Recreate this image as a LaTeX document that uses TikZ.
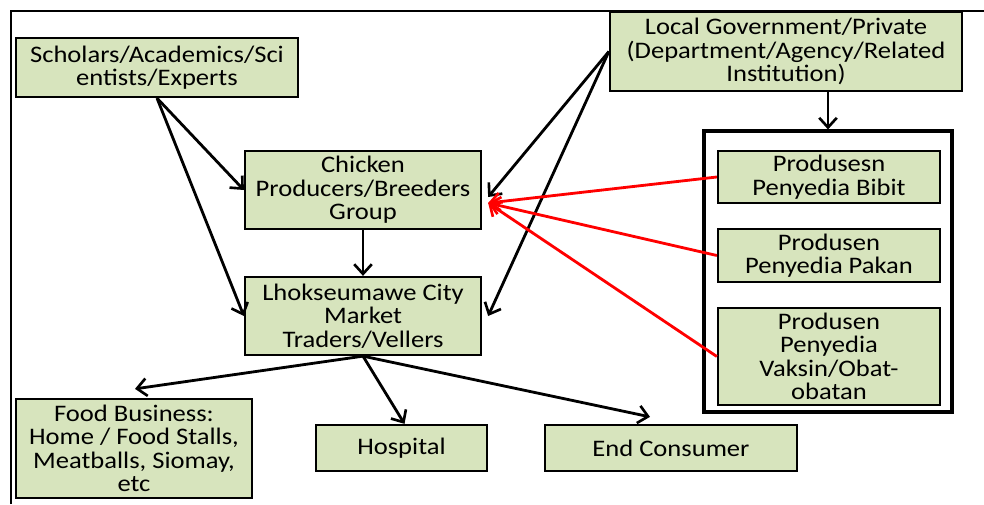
\documentclass[tikz,border=0pt]{standalone}
\usepackage{fontspec}
\setmainfont[FakeStretch=1.12]{Carlito}
\usepackage{xcolor}
\usetikzlibrary{arrows.meta, positioning, calc}

\definecolor{boxgreen}{HTML}{D7E4BD}

\begin{document}
\begin{tikzpicture}[
    x=0.02cm, y=-0.02cm,
    every node/.style={font=\fontsize{13.5}{13.3}\selectfont},
    actor/.style={rectangle, draw, line width=1.3pt, fill=boxgreen, align=center, inner sep=2pt},
    group/.style={rectangle, draw, line width=1.8pt, fill=white},
    arrow/.style={-{Straight Barb[length=5.5pt, width=10pt, line width=1.5pt]}, line width=1.6pt},
    redarrow/.style={arrow, red}
]
\useasboundingbox (0,0) rectangle (984,504);

% outer frame
\draw[line width=1.2pt] (11,504) -- (11,11) -- (984,11);

\node[actor, minimum width=282*0.02cm, minimum height=59*0.02cm] (schol) at (157,67.5) {Scholars/Academics/Sci\\entists/Experts};
\node[actor, minimum width=352*0.02cm, minimum height=79*0.02cm] (gov) at (786,51.5) {Local Government/Private\\(Department/Agency/Related\\Institution)};
\node[actor, minimum width=236*0.02cm, minimum height=78*0.02cm] (chick) at (363,190) {Chicken\\Producers/Breeders\\Group};
\node[actor, minimum width=236*0.02cm, minimum height=78*0.02cm] (lhok) at (363,316) {Lhokseumawe City\\Market\\Traders/Vellers};

\node[group, minimum width=248*0.02cm, minimum height=281*0.02cm] (cont) at (828,271.5) {};
\node[actor, minimum width=222*0.02cm, minimum height=52*0.02cm] (bibit) at (829,177) {Produsesn\\Penyedia Bibit};
\node[actor, minimum width=222*0.02cm, minimum height=53*0.02cm] (pakan) at (829,255.5) {Produsen\\Penyedia Pakan};
\node[actor, minimum width=222*0.02cm, minimum height=97*0.02cm] (vaksin) at (829,356.5) {Produsen\\Penyedia\\Vaksin/Obat-\\obatan};

\node[actor, minimum width=236*0.02cm, minimum height=99*0.02cm] (food) at (134,448.5) {Food Business:\\Home / Food Stalls,\\Meatballs, Siomay,\\etc};
\node[actor, minimum width=171*0.02cm, minimum height=46*0.02cm] (hosp) at (401.5,448) {Hospital};
\node[actor, minimum width=252*0.02cm, minimum height=46*0.02cm] (endc) at (671,448) {End Consumer};

% free ends of some connectors
\coordinate (redtip) at ($(chick.east)+(6,13)$);
\coordinate (foodtip) at ($(food.north)+(1,-9)$);
\coordinate (endtip) at ($(endc.north)+(-21,-7)$);

\draw[arrow] (schol.south) -- (chick.west);
\draw[arrow] (schol.south) -- (lhok.west);
\draw[arrow] (gov.west) -- ($(chick.east)+(6,7)$);
\draw[arrow] (gov.west) -- ($(lhok.east)+(6,0)$);
\draw[arrow] (gov.south -| cont.north) -- (cont.north);
\draw[arrow] (chick.south) -- (lhok.north);

\draw[redarrow] (bibit.west) -- (redtip);
\draw[redarrow] (pakan.west) -- (redtip);
\draw[redarrow] (vaksin.west) -- (redtip);

\draw[arrow] (lhok.south) -- (foodtip);
\draw[arrow] (lhok.south) -- ($(hosp.north)+(3,0)$);
\draw[arrow] (lhok.south) -- (endtip);

\end{tikzpicture}
\end{document}
